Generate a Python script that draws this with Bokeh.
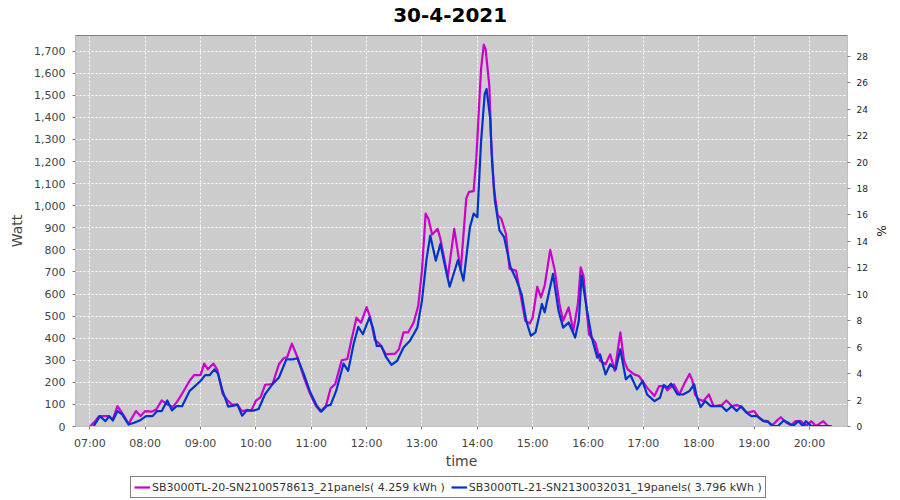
import pandas as pd
from bokeh.plotting import figure
from bokeh.layouts import column
from bokeh.models import (Range1d, LinearAxis, FixedTicker, DatetimeTickFormatter,
                          NumeralTickFormatter, Legend, LegendItem, Label)
from bokeh.embed import file_html
from bokeh.resources import INLINE

DAY = "2021-04-30"
title_text = "30-4-2021"
series1_name = "SB3000TL-20-SN2100578613_21panels( 4.259 kWh )"
series2_name = "SB3000TL-21-SN2130032031_19panels( 3.796 kWh )"

s1_times = ["07:00", "07:05", "07:10", "07:20", "07:25", "07:30", "07:36", "07:42", "07:50", "07:55",
            "08:00", "08:07", "08:12", "08:18", "08:24", "08:30", "08:35", "08:40", "08:48", "08:53",
            "09:00", "09:04", "09:08", "09:14", "09:18", "09:24", "09:29", "09:34", "09:40", "09:45",
            "09:50", "09:55", "10:00", "10:05", "10:10", "10:18", "10:25", "10:30", "10:34", "10:39",
            "10:45", "10:52", "10:59", "11:05", "11:10", "11:16", "11:21", "11:26", "11:33", "11:39",
            "11:44", "11:49", "11:54", "12:00", "12:04", "12:09", "12:14", "12:21", "12:31", "12:35",
            "12:40", "12:45", "12:51", "12:56", "13:00", "13:04", "13:07", "13:11", "13:17", "13:20",
            "13:28", "13:35", "13:42", "13:48", "13:51", "13:56", "13:59", "14:04", "14:07", "14:09",
            "14:13", "14:15", "14:18", "14:22", "14:26", "14:31", "14:35", "14:42", "14:46", "14:52",
            "14:57", "15:00", "15:05", "15:09", "15:13", "15:19", "15:24", "15:29", "15:33", "15:39",
            "15:44", "15:49", "15:52", "15:55", "16:01", "16:08", "16:13", "16:19", "16:24", "16:29",
            "16:35", "16:39", "16:43", "16:50", "16:55", "16:59", "17:04", "17:12", "17:17", "17:23",
            "17:26", "17:33", "17:39", "17:44", "17:50", "17:53", "17:56", "18:00", "18:05", "18:11",
            "18:16", "18:25", "18:30", "18:36", "18:41", "18:45", "18:52", "19:00", "19:05", "19:10",
            "19:15", "19:19", "19:24", "19:29", "19:35", "19:40", "19:45", "19:51", "19:56", "20:02",
            "20:07", "20:15", "20:20"]
s1_watts = [0, 20, 47, 47, 32, 92, 55, 12, 70, 47,
            70, 67, 77, 118, 100, 88, 115, 148, 206, 233,
            233, 285, 259, 285, 259, 147, 120, 99, 99, 69,
            75, 72, 117, 132, 189, 192, 282, 309, 315, 375,
            315, 222, 146, 94, 68, 94, 173, 192, 300, 305,
            400, 493, 470, 541, 493, 391, 375, 327, 330, 350,
            426, 426, 471, 547, 706, 964, 941, 870, 895, 850,
            676, 895, 706, 1033, 1063, 1066, 1220, 1617, 1730, 1708,
            1543, 1288, 1078, 958, 941, 873, 714, 706, 615, 479,
            467, 494, 633, 585, 638, 800, 706, 555, 479, 539,
            433, 555, 721, 683, 418, 380, 297, 282, 327, 252,
            426, 297, 259, 236, 229, 206, 176, 138, 183, 183,
            164, 191, 145, 191, 238, 210, 145, 123, 115, 145,
            92, 97, 118, 92, 97, 92, 62, 70, 42, 27,
            24, 2, 24, 42, 17, 6, 24, 24, 2, 24,
            2, 24, 2]

s2_times = ["07:04", "07:11", "07:17", "07:21", "07:25", "07:30", "07:35", "07:42", "07:48", "07:54",
            "08:01", "08:08", "08:13", "08:18", "08:24", "08:29", "08:34", "08:40", "08:48", "09:00",
            "09:05", "09:10", "09:15", "09:19", "09:24", "09:30", "09:36", "09:40", "09:45", "09:50",
            "09:57", "10:03", "10:10", "10:18", "10:25", "10:33", "10:40", "10:45", "10:52", "10:59",
            "11:06", "11:11", "11:17", "11:21", "11:27", "11:35", "11:40", "11:46", "11:51", "11:56",
            "12:03", "12:07", "12:11", "12:16", "12:21", "12:27", "12:33", "12:40", "12:47", "12:55",
            "13:00", "13:05", "13:09", "13:11", "13:15", "13:20", "13:26", "13:30", "13:39", "13:45",
            "13:52", "13:56", "14:00", "14:04", "14:08", "14:10", "14:14", "14:16", "14:19", "14:24",
            "14:29", "14:36", "14:42", "14:48", "14:53", "14:58", "15:03", "15:10", "15:13", "15:22",
            "15:28", "15:33", "15:39", "15:46", "15:50", "15:53", "15:59", "16:04", "16:10", "16:13",
            "16:19", "16:24", "16:30", "16:35", "16:41", "16:46", "16:53", "16:59", "17:04", "17:12",
            "17:18", "17:22", "17:26", "17:30", "17:37", "17:43", "17:50", "17:55", "17:58", "18:02",
            "18:07", "18:13", "18:18", "18:25", "18:30", "18:36", "18:41", "18:46", "18:52", "18:57",
            "19:03", "19:10", "19:15", "19:21", "19:26", "19:32", "19:37", "19:42", "19:48", "19:53",
            "19:56", "20:02", "20:24"]
s2_watts = [0, 47, 24, 47, 27, 70, 55, 9, 17, 27,
            47, 47, 70, 70, 118, 73, 92, 92, 160, 206,
            233, 233, 259, 239, 160, 90, 94, 99, 49, 72,
            72, 79, 147, 192, 222, 304, 304, 309, 237, 154,
            94, 68, 94, 98, 161, 285, 252, 375, 451, 418,
            493, 445, 365, 365, 315, 279, 297, 358, 388, 448,
            570, 759, 865, 827, 751, 827, 706, 633, 754, 661,
            903, 964, 948, 1288, 1505, 1528, 1393, 1198, 1024, 888,
            858, 721, 668, 600, 479, 411, 426, 555, 517, 691,
            524, 448, 471, 403, 479, 683, 524, 403, 312, 327,
            236, 282, 259, 350, 214, 233, 168, 206, 145, 115,
            130, 188, 176, 194, 145, 145, 161, 191, 133, 88,
            115, 92, 92, 92, 70, 92, 70, 92, 62, 47,
            47, 24, 21, 2, 2, 27, 17, 2, 24, 2,
            24, 2, 2]

hour_ticks = ["07:00", "08:00", "09:00", "10:00", "11:00", "12:00", "13:00",
              "14:00", "15:00", "16:00", "17:00", "18:00", "19:00", "20:00"]
watt_ticks = [0, 100, 200, 300, 400, 500, 600, 700, 800, 900, 1000, 1100, 1200,
              1300, 1400, 1500, 1600, 1700]
pct_ticks = [0, 2, 4, 6, 8, 10, 12, 14, 16, 18, 20, 22, 24, 26, 28]
x_start, x_end = "06:44:30", "20:41:12"
watt_max = 1771
pct_max = 29.57

COLOR1 = "#cc00cc"
COLOR2 = "#0033cc"
FONT = "DejaVu Sans"


def to_dt(ts):
    return pd.to_datetime([f"{DAY} {t}" for t in ts])


def to_ms(ts):
    return [int(v) // 10**6 for v in to_dt(ts).astype("int64")]


def strip(height):
    f = figure(width=900, height=height, output_backend="svg", toolbar_location=None,
               x_range=Range1d(0, 1), y_range=Range1d(0, height),
               x_axis_location=None, y_axis_location=None,
               min_border_left=0, min_border_right=0, min_border_top=0, min_border_bottom=0)
    f.outline_line_color = None
    f.grid.visible = False
    f.background_fill_color = "white"
    f.border_fill_color = "white"
    return f


# title strip
tf = strip(35)
tf.add_layout(Label(x=0.4853, y=21, text=title_text, text_align="center",
                    text_baseline="alphabetic", text_font=FONT, text_font_size="20px",
                    text_font_style="bold", text_color="black"))

# main chart
p = figure(width=900, height=439, x_axis_type="datetime", output_backend="svg",
           toolbar_location=None,
           x_range=Range1d(to_dt([x_start])[0], to_dt([x_end])[0]),
           y_range=Range1d(0, watt_max),
           min_border_left=75, min_border_right=53, min_border_top=0, min_border_bottom=48)

p.background_fill_color = "#cccccc"
p.border_fill_color = "white"
p.outline_line_color = "#808080"
p.outline_line_width = 1

p.xaxis.ticker = FixedTicker(ticks=to_ms(hour_ticks))
fmt = "%H:%M"
p.xaxis.formatter = DatetimeTickFormatter(minutes=fmt, hourmin=fmt, hours=fmt, days=fmt,
                                          months=fmt, years=fmt, minsec=fmt, seconds=fmt)
p.yaxis.ticker = FixedTicker(ticks=watt_ticks)
p.yaxis.formatter = NumeralTickFormatter(format="0,0")
p.xaxis.axis_label = "time"
p.yaxis.axis_label = "Watt"

for ax in (p.xaxis[0], p.yaxis[0]):
    ax.major_label_text_font = FONT
    ax.major_label_text_font_size = "11px"
    ax.major_label_text_color = "#444444"
    ax.axis_label_text_font = FONT
    ax.axis_label_text_font_size = "14px"
    ax.axis_label_text_font_style = "normal"
    ax.axis_label_text_color = "#444444"
    ax.axis_line_color = "#c0c0c0"
    ax.major_tick_line_color = "#808080"
    ax.major_tick_out = 3
    ax.major_tick_in = 0
    ax.minor_tick_line_color = None
    ax.major_label_standoff = 7
p.yaxis.axis_label_standoff = 6
p.xaxis.axis_label_standoff = 0

p.extra_y_ranges = {"pct": Range1d(0, pct_max)}
rax = LinearAxis(y_range_name="pct", ticker=FixedTicker(ticks=pct_ticks), axis_label="%")
rax.major_label_text_font = FONT
rax.major_label_text_font_size = "9px"
rax.major_label_text_color = "#222222"
rax.axis_label_text_font = FONT
rax.axis_label_text_font_size = "12px"
rax.axis_label_text_font_style = "normal"
rax.axis_label_text_color = "#222222"
rax.axis_line_color = "#c0c0c0"
rax.major_tick_line_color = "#808080"
rax.major_tick_out = 3
rax.major_tick_in = 0
rax.minor_tick_line_color = None
rax.major_label_standoff = 6
rax.axis_label_standoff = 3
p.add_layout(rax, "right")

p.xgrid.grid_line_color = "white"
p.ygrid.grid_line_color = "white"
p.xgrid.grid_line_dash = "2 2"
p.ygrid.grid_line_dash = "2 2"
p.xgrid.grid_line_width = 1
p.ygrid.grid_line_width = 1

p.line(to_dt(s1_times), s1_watts, line_color=COLOR1, line_width=2.2, line_join="round")
p.line(to_dt(s2_times), s2_watts, line_color=COLOR2, line_width=2.2, line_join="round")

# legend strip below the chart (proxy renderers fall outside the strip's ranges)
lg = strip(26)
k1 = lg.line(to_dt(s1_times), s1_watts, line_color=COLOR1, line_width=2.2)
k2 = lg.line(to_dt(s2_times), s2_watts, line_color=COLOR2, line_width=2.2)
legend = Legend(items=[LegendItem(label=series1_name, renderers=[k1]),
                       LegendItem(label=series2_name, renderers=[k2])],
                orientation="horizontal", location=(55, 2),
                border_line_color="black", border_line_width=1,
                background_fill_color="white", background_fill_alpha=1,
                label_text_font=FONT, label_text_font_size="11px", label_text_color="#333333",
                glyph_width=16, glyph_height=14, label_height=14, label_standoff=2,
                spacing=6, padding=3, margin=0)
lg.add_layout(legend, "center")

layout = column(tf, p, lg, spacing=0)
open("out.html", "w").write(file_html(layout, INLINE))
